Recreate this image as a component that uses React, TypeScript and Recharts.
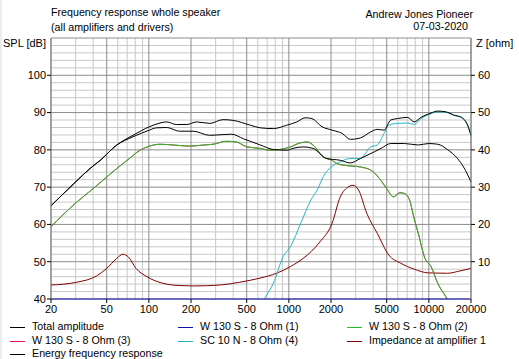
import React from 'react';
import { LineChart, Line, XAxis, YAxis, CartesianGrid } from 'recharts';

// ---------- Axis ticks ----------
const xTicks = [20, 50, 100, 200, 500, 1000, 2000, 5000, 10000, 20000];
const splTicks = [40, 50, 60, 70, 80, 90, 100];
const zTicks = [10, 20, 30, 40, 50, 60];

// grid values
const xMajorGrid = [20, 50, 100, 200, 500, 1000, 2000, 5000, 10000, 20000];
const xMinorGrid = [30, 40, 60, 70, 80, 90, 300, 400, 600, 700, 800, 900, 3000, 4000, 6000, 7000, 8000, 9000];
const yMajorGrid = [40, 50, 60, 70, 80, 90, 100, 110];
const yMinorGrid = [42, 44, 46, 48, 52, 54, 56, 58, 62, 64, 66, 68, 72, 74, 76, 78, 82, 84, 86, 88, 92, 94, 96, 98, 102, 104, 106, 108];

// ---------- Series data ----------
// Total amplitude (SPL dB)
const totalFreq = [20, 30, 38, 45, 59, 77, 101, 120, 134, 157, 187, 219, 272, 339, 400, 532, 626, 775, 965, 1142, 1306, 1459, 1725, 2036, 2403, 2752, 3249, 3836, 4284, 4784, 5340, 5965, 7045, 7863, 8780, 10370, 11580, 13220, 15180, 16950, 18930, 20000];
const totalSpl = [65, 71.4, 75, 77.2, 81.3, 83.9, 86.2, 87.2, 87.5, 86.8, 86.8, 87.5, 87.1, 88.1, 87.9, 86.6, 85.9, 85.7, 86.6, 87.5, 88.6, 88.4, 86.2, 85.3, 84.4, 82.8, 83.2, 84.8, 85.5, 85.3, 88, 88.4, 88.7, 87.5, 88.7, 89.9, 90.4, 90.2, 89.3, 88.8, 86.6, 83.9];

// W 130 S - 8 Ohm (1) (off scale, shown at bottom edge)
const w1Freq = [20, 20000];
const w1Spl = [40, 40];

// W 130 S - 8 Ohm (2)
const w2Freq = [20, 29.7, 40, 59, 71, 86.5, 101, 120, 150, 196, 245, 288, 357, 424, 500, 622, 731, 866, 1026, 1215, 1360, 1487, 1760, 2036, 2210, 2460, 3249, 3836, 4400, 5000, 5580, 6200, 6700, 7290, 7800, 8400, 9380, 10370, 11580, 13220, 13500];
const w2Spl = [59.4, 65.6, 69.6, 75.0, 77.4, 79.9, 81, 81.5, 81.3, 81, 81.3, 81.5, 82.3, 82.1, 80.8, 80.4, 79.9, 80.1, 80.8, 81.9, 82.1, 81.3, 78.1, 77.2, 76.3, 75.9, 75.4, 74.6, 72.5, 69.6, 67.4, 68.5, 68.3, 66.5, 62, 57.6, 50.9, 48.7, 44.2, 40.6, 40];

// W 130 S - 8 Ohm (3) (hidden under (2))
const w3Freq = [20, 29.7, 40, 59, 71, 86.5, 101, 120, 150, 196, 245, 288, 357, 424, 500, 622, 731, 866, 1026, 1215, 1360, 1487, 1760, 2036, 2210, 2460, 3249, 3836, 4400, 5000, 5580, 6200, 6700, 7290, 7800, 8400, 9380, 10370, 11580, 13220, 13500];
const w3Spl = [59.4, 65.6, 69.6, 75.0, 77.4, 79.9, 81, 81.5, 81.3, 81, 81.3, 81.5, 82.3, 82.1, 80.8, 80.4, 79.9, 80.1, 80.8, 81.9, 82.1, 81.3, 78.1, 77.2, 76.3, 75.9, 75.4, 74.6, 72.5, 69.6, 67.4, 68.5, 68.3, 66.5, 62, 57.6, 50.9, 48.7, 44.2, 40.6, 40];

// SC 10 N - 8 Ohm (4)
const scFreq = [668, 700, 775, 911, 1026, 1215, 1434, 1613, 1760, 2036, 2330, 2752, 3249, 3836, 4284, 4784, 5170, 5965, 7045, 7863, 8780, 10370, 11200, 13220, 15180, 16950, 18930, 20000];
const scSpl = [40, 41.3, 44.2, 51.4, 54, 60.3, 66.5, 69.6, 72.8, 75.6, 76.8, 77.7, 77.7, 80.8, 81.3, 84.4, 86.6, 87.1, 87.2, 86.8, 88.4, 89.7, 90.2, 90.1, 89.2, 88.7, 86.5, 83.8];

// Impedance at amplifier 1 (ohm)
const impFreq = [20, 30.6, 42.4, 50, 59, 65.4, 71.3, 81, 96.8, 126, 167, 207, 323, 446, 622, 816, 1026, 1266, 1666, 2036, 2330, 2670, 2870, 3150, 3600, 4284, 5170, 6300, 7863, 9920, 13560, 16950, 20000];
const impOhm = [3.75, 4.5, 6.2, 8.2, 10.9, 12.0, 11.3, 8.2, 6.0, 4.2, 3.6, 3.5, 3.75, 4.5, 5.6, 6.9, 8.7, 10.9, 15.3, 20.3, 27.4, 30.1, 30.5, 29.2, 23, 17.6, 11.8, 9.6, 8.0, 7.0, 6.9, 7.6, 8.2];

// Energy frequency response
const energyFreq = [20, 30, 38, 45, 59, 77, 101, 113, 134, 166, 207, 272, 339, 390, 472, 626, 775, 965, 1070, 1266, 1487, 1855, 2330, 2752, 3249, 4090, 4560, 5340, 6700, 8400, 9920, 11580, 13560, 16000, 17700, 20000];
const energySpl = [65, 71.4, 75, 77.2, 81.3, 83.5, 85.3, 85.9, 86, 85, 85, 83.9, 84.1, 84.2, 83, 81.3, 80.1, 79.9, 80.4, 80.8, 80.4, 77.7, 77.2, 76.5, 77.7, 79.5, 80.4, 81.7, 81.7, 81.3, 81.7, 81.5, 80.1, 77.7, 75.4, 71.4];

const build = (f: number[], v: number[]) => f.map((x, i) => ({ f: x, v: v[i] }));

const series = [
  { key: 'w3', name: 'W 130 S - 8 Ohm (3)', color: '#e0105a', axis: 'spl', data: build(w3Freq, w3Spl) },
  { key: 'imp', name: 'Impedance at amplifier 1', color: '#800000', axis: 'z', data: build(impFreq, impOhm) },
  { key: 'sc', name: 'SC 10 N - 8 Ohm (4)', color: '#20b8c8', axis: 'spl', data: build(scFreq, scSpl) },
  { key: 'w2', name: 'W 130 S - 8 Ohm (2)', color: '#22c022', axis: 'spl', data: build(w2Freq, w2Spl) },
  { key: 'w1', name: 'W 130 S - 8 Ohm (1)', color: '#1010b0', axis: 'spl', data: build(w1Freq, w1Spl) },
  { key: 'energy', name: 'Energy frequency response', color: '#000000', axis: 'spl', data: build(energyFreq, energySpl) },
  { key: 'total', name: 'Total amplitude', color: '#000000', axis: 'spl', data: build(totalFreq, totalSpl) },
];

const legendOrder = [
  { name: 'Total amplitude', color: '#000000' },
  { name: 'W 130 S - 8 Ohm (1)', color: '#1010b0' },
  { name: 'W 130 S - 8 Ohm (2)', color: '#22c022' },
  { name: 'W 130 S - 8 Ohm (3)', color: '#e0105a' },
  { name: 'SC 10 N - 8 Ohm (4)', color: '#20b8c8' },
  { name: 'Impedance at amplifier 1', color: '#800000' },
  { name: 'Energy frequency response', color: '#000000' },
];

const FONT = '"Liberation Sans", Arial, sans-serif';
const tickStyle = { fontSize: 11, fill: '#000', fontFamily: FONT };

const txt = (s: string, style: React.CSSProperties) => (
  <div style={{ position: 'absolute', fontSize: 10.7, lineHeight: '13px', whiteSpace: 'nowrap', color: '#000', fontFamily: FONT, ...style }}>{s}</div>
);

export default function App() {
  const colX = [10, 178, 347];
  const rowY = [327, 341, 354];
  return (
    <div style={{ position: 'absolute', left: 0, top: 0, width: 519, height: 359, background: '#fff', overflow: 'hidden', fontFamily: FONT }}>
      <div style={{ position: 'absolute', left: 0, top: 0, width: 2, height: 359, background: '#ececec' }} />
      <LineChart width={519} height={359} margin={{ top: 38, right: 0, bottom: 40, left: 0 }}>
        <CartesianGrid yAxisId="spl" horizontalValues={yMinorGrid} verticalValues={xMinorGrid} stroke="#c8c8c8" />
        <CartesianGrid yAxisId="spl" horizontalValues={yMajorGrid} verticalValues={xMajorGrid} stroke="#8c8c8c" />
        <XAxis
          type="number"
          dataKey="f"
          scale="log"
          domain={[20, 20000]}
          ticks={xTicks}
          interval={0}
          height={20}
          tickSize={4}
          tickMargin={2}
          axisLine={false}
          tickLine={{ stroke: '#000' }}
          tick={tickStyle}
        />
        <YAxis
          yAxisId="spl"
          type="number"
          domain={[40, 110]}
          ticks={splTicks}
          interval={0}
          width={51}
          tickSize={4}
          tickMargin={1}
          axisLine={{ stroke: '#808080' }}
          tickLine={{ stroke: '#000' }}
          tick={tickStyle}
        />
        <YAxis
          yAxisId="z"
          orientation="right"
          type="number"
          domain={[0, 70]}
          ticks={zTicks}
          interval={0}
          width={48}
          tickSize={4}
          tickMargin={3}
          axisLine={{ stroke: '#808080' }}
          tickLine={{ stroke: '#000' }}
          tick={tickStyle}
        />
        {series.map((s) => (
          <Line
            key={s.key}
            yAxisId={s.axis}
            data={s.data}
            dataKey="v"
            name={s.name}
            type="monotone"
            stroke={s.color}
            strokeWidth={1}
            dot={false}
            activeDot={false}
            isAnimationActive={false}
          />
        ))}
      </LineChart>
      {txt('Frequency response whole speaker', { left: 51, top: 6 })}
      {txt('(all amplifiers and drivers)', { left: 51, top: 21 })}
      {txt('Andrew Jones Pioneer', { right: 519 - 473, top: 8, textAlign: 'right' })}
      {txt('07-03-2020', { right: 519 - 468, top: 20, textAlign: 'right' })}
      {txt('SPL [dB]', { right: 519 - 46, top: 37, textAlign: 'right', fontSize: 11 })}
      {txt('Z [ohm]', { left: 476, top: 37, fontSize: 11 })}
      {legendOrder.map((l, i) => {
        const x = colX[i % 3];
        const y = rowY[Math.floor(i / 3)];
        return (
          <React.Fragment key={l.name}>
            <div style={{ position: 'absolute', left: x, top: y, width: 15, height: 1, background: l.color }} />
            {txt(l.name, { left: x + 22, top: y - 7 })}
          </React.Fragment>
        );
      })}
    </div>
  );
}
